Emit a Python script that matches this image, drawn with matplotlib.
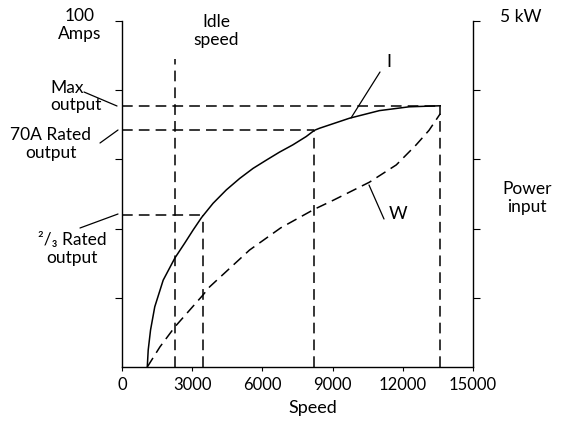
import matplotlib
matplotlib.use("Agg")
import matplotlib.pyplot as plt

plt.rcParams["font.family"] = ["Lato", "DejaVu Sans"]

# ── Data ────────────────────────────────────────────────────
# current curve I (amps) against engine speed (rev/min)
speed_i = [1080, 1120, 1220, 1400, 1760, 2260, 2680, 3040, 3400,
           3890, 4460, 5030, 5600, 6170, 6730, 7300, 7870, 8220,
           8440, 9720, 11000, 12270, 13600]
amps_i = [0, 4.9, 10.7, 17.4, 25.1, 31.5, 35.8, 39.6, 43.2,
          47.3, 51.2, 54.5, 57.4, 59.8, 62.1, 64.2, 66.6, 68.4,
          69.0, 71.9, 74.1, 75.2, 75.5]

# power input curve W (kW)
speed_w = [1080, 1620, 2260, 3460, 3750, 5450, 6780, 8220, 9030,
           10570, 11720, 12570, 13120, 13600]
kw_w = [0, 0.29, 0.58, 1.04, 1.16, 1.69, 2.01, 2.28, 2.41,
        2.67, 2.92, 3.21, 3.42, 3.66]

# reference levels
idle_speed = 2260
idle_top = 89
max_output = 75.4
rated_output = 68.5
two_thirds_output = 44.0
speed_two_thirds = 3450
speed_rated = 8220
speed_max = 13600

x_ticks = [0, 3000, 6000, 9000, 12000, 15000]
amp_ticks = [20, 40, 60, 80, 100]
kw_ticks = [1, 2, 3, 4, 5]

# ── Figure ──────────────────────────────────────────────────
fig = plt.figure(figsize=(5.62, 4.21), dpi=100)
ax = fig.add_axes([122 / 562, 54 / 421, 351 / 562, 346 / 421])
ax2 = ax.twinx()

ax.set_xlim(0, 15000)
ax.set_ylim(0, 100)
ax2.set_ylim(0, 5)

for s in ["top", "right"]:
    ax.spines[s].set_visible(False)
for s in ["top", "left", "bottom"]:
    ax2.spines[s].set_visible(False)
for sp in [ax.spines["left"], ax.spines["bottom"], ax2.spines["right"]]:
    sp.set_linewidth(1.0)

ax.set_xticks(x_ticks)
ax.set_xticklabels([str(t) for t in x_ticks], fontsize=12)
ax.set_yticks(amp_ticks)
ax.set_yticklabels([])
ax2.set_yticks(kw_ticks)
ax2.set_yticklabels([])
ax.tick_params(axis="x", direction="out", length=3, width=0.8, pad=4)
ax.tick_params(axis="y", direction="out", length=5, width=0.8)
ax2.tick_params(axis="y", direction="out", length=5, width=0.8)

dash = (7, 4)
lw_ref = 1.1

# curves
ax.plot(speed_i, amps_i, color="black", lw=1.1, solid_joinstyle="round")
ax2.plot(speed_w, kw_w, color="black", lw=lw_ref, dashes=dash)

# dashed guide lines
ax.plot([idle_speed, idle_speed], [0, idle_top], color="black", lw=lw_ref, dashes=dash)
ax.plot([0, speed_max], [max_output, max_output], color="black", lw=lw_ref, dashes=dash)
ax.plot([0, speed_rated], [rated_output, rated_output], color="black", lw=lw_ref, dashes=dash)
ax.plot([0, speed_two_thirds], [two_thirds_output, two_thirds_output],
        color="black", lw=lw_ref, dashes=dash)
ax.plot([speed_two_thirds, speed_two_thirds], [0, two_thirds_output],
        color="black", lw=lw_ref, dashes=dash)
ax.plot([speed_rated, speed_rated], [0, rated_output], color="black", lw=lw_ref, dashes=dash)
ax.plot([speed_max, speed_max], [0, max_output], color="black", lw=lw_ref, dashes=dash)

# ── Labels (figure pixel positions, origin bottom-left) ────
H = 421


def label(x, y, s, size=12.5):
    fig.text(x / 562, (H - y) / H, s, ha="center", va="center",
             fontsize=size, linespacing=1.1)


def leader(p0, p1):
    ax.annotate("", xy=(p1[0], H - p1[1]), xycoords="figure pixels",
                xytext=(p0[0], H - p0[1]), textcoords="figure pixels",
                arrowprops=dict(arrowstyle="-", lw=0.9, color="black",
                                shrinkA=0, shrinkB=0))


label(80, 25, "100\nAmps")
label(216, 31, "Idle\nspeed")
label(67, 88, "Max")
label(76, 105, "output")
label(51, 144, "70A Rated\noutput")
label(72, 249, "²/₃ Rated\noutput")
label(521, 17, "5 kW")
label(527, 198, "Power\ninput")
label(313, 408, "Speed", size=13)
label(389, 62, "I", size=13)
label(398, 214, "W", size=13)

leader((84, 92), (117, 106))
leader((100, 143), (118, 130))
leader((80, 228), (118, 214))
leader((351, 118), (380, 72))
leader((369, 185), (384, 219))

fig.savefig("out.png", dpi=100)
